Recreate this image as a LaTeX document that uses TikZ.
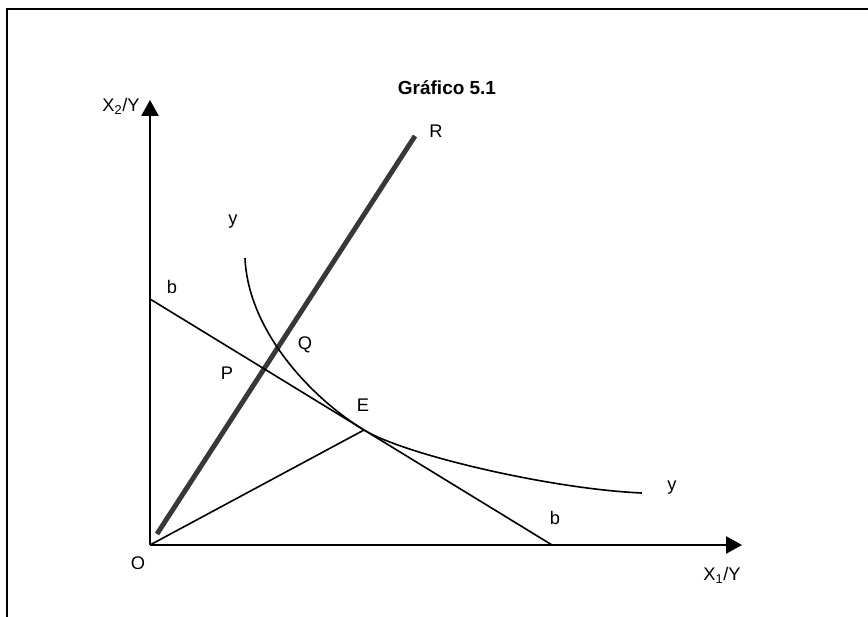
\documentclass[tikz,border=0pt]{standalone}
\usepackage{fontspec}
\setmainfont{Liberation Sans}
\usetikzlibrary{arrows.meta}

\tikzset{
  axis/.style={line width=1.4pt,-{Triangle[length=4mm,width=4.3mm]}},
  curveline/.style={line width=1.15pt},
  lbl/.style={font=\fontsize{13}{15}\selectfont,inner sep=0pt},
}

\begin{document}
\begin{tikzpicture}[x=0.25mm,y=0.25mm]
            \useasboundingbox (-150,-72) rectangle (718,545);
            % Frame
            \draw[line width=1.1pt] (-143,-72) -- (-143,536) -- (718,536);
            \node[lbl,font=\bfseries\fontsize{13.5}{15}\selectfont] (title) at (297,457) {Gráfico 5.1};

            % Points
            \coordinate (O) at (0,0);
            \coordinate (Ytip) at (0,445);
            \coordinate (Xtip) at (592,0);
            \coordinate (Rlow) at (7,11);
            \coordinate (Rtop) at (265,409);
            \coordinate (b1) at (0,246);
            \coordinate (b2) at (402,0);
            \coordinate (E) at (214,115);
            \coordinate (ystart) at (95,287);
            \coordinate (yend) at (492,52);

            % Axes
            \draw[axis] (O) -- (Ytip);
            \draw[axis] (O) -- (Xtip);
            \node[lbl] (ylab) at (-29,439) {X\textsubscript{2}/Y};
            \node[lbl] (xlab) at (572,-30) {X\textsubscript{1}/Y};
            \node[lbl] (olab) at (-12,-18) {O};

            % Ray R
            \draw[line width=3.5pt,black!78] (Rlow) -- (Rtop);
            \node[lbl] (rlab) at (286,414) {R};

            % Budget line b-b and ray to E
            \draw[curveline] (b1) -- (b2);
            \draw[curveline] (O) -- (E);
            \node[lbl] (btop) at (22,258) {b};
            \node[lbl] (bbot) at (405,27) {b};

            % Isoquant y
            \draw[curveline] (ystart) .. controls (98,215) and (160,148) .. (E)
                                       .. controls (254,90.5) and (400,56) .. (yend);
            \node[lbl] (ytop) at (83,323) {y};
            \node[lbl] (yright) at (522,57) {y};

            % Points P, Q, E
            \node[lbl] (plab) at (77,172) {P};
            \node[lbl] (qlab) at (155,200) {Q};
            \node[lbl] (elab) at (213,140) {E};
\end{tikzpicture}
\end{document}
